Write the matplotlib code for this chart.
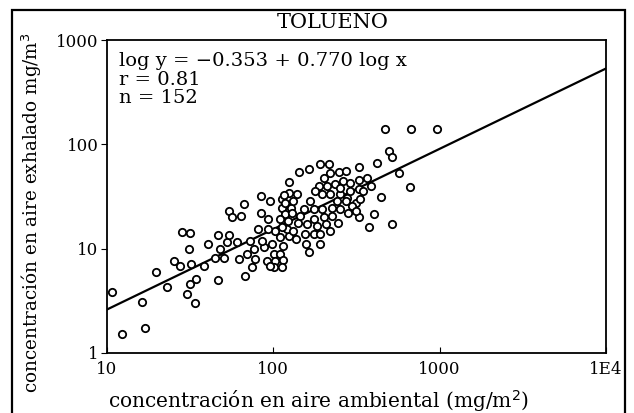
import numpy as np
import matplotlib
matplotlib.use('Agg')
import matplotlib.pyplot as plt
from matplotlib.patches import Rectangle

plt.rcParams['font.family'] = 'DejaVu Serif'

# concentración en aire ambiental (mg/m2)
x_amb = [10.7, 12.3, 16.9, 16.2, 19.7, 23.1, 28.2, 31.6, 31.2, 25.3,
         27.5, 31.9, 34.2, 31.6, 30.2, 33.9, 38.5, 40.2, 46.4, 46.4,
         47.9, 44.7, 50.2, 52.6, 53.8, 56.4, 61.8, 69.5, 76.1, 77.9,
         74.4, 67.8, 87.4, 91.6, 100.4, 102.8, 110, 115, 101, 112,
         114, 98.2, 142, 125, 66.2, 84.7, 95.9, 63.8, 84.7, 92.9,
         125, 113, 113, 118, 127, 110, 122, 53.8, 60.4, 85.5,
         110, 124, 121, 132, 192, 215, 163, 220, 247, 327,
         201, 211, 236, 197, 220, 253, 291, 327, 278, 312,
         116, 139, 118, 132, 152, 175, 197, 226, 253, 175,
         201, 226, 160, 183, 206, 156, 175, 192, 136, 192,
         163, 327, 468, 676, 959, 495, 519, 422, 327, 367,
         384, 569, 662, 441, 402, 375, 519, 264, 291, 272,
         299, 334, 283, 316, 344, 253, 240, 72.7, 95.9, 113,
         145, 167, 130, 187, 141, 220, 246, 158, 177, 272,
         103, 93.3, 81.3]

# concentración en aire exhalado (mg/m3)
y_exh = [3.84, 1.52, 1.74, 3.08, 6.04, 4.28, 14.5, 14.1, 9.9, 7.69,
         6.89, 7.15, 5.14, 4.54, 3.70, 3.01, 6.89, 11.1, 4.96, 13.5,
         9.9, 8.15, 8.15, 11.5, 23.0, 19.9, 7.98, 8.91, 9.94, 7.98,
         6.64, 5.53, 10.3, 7.69, 8.91, 7.69, 8.91, 7.80, 6.74, 6.74,
         10.7, 11.1, 54.5, 43.8, 27.0, 32.0, 28.7, 20.6, 21.9, 19.2,
         34.4, 29.7, 24.7, 21.7, 24.7, 19.2, 18.5, 13.6, 11.5, 11.9,
         12.8, 13.3, 15.4, 14.8, 64.9, 64.9, 57.4, 53.3, 54.5, 60.4,
         47.8, 39.8, 41.3, 33.2, 33.2, 33.2, 35.7, 37.0, 30.8, 27.6,
         32.7, 33.2, 27.6, 28.7, 23.9, 23.9, 23.9, 24.7, 23.9, 19.2,
         19.9, 20.6, 17.2, 16.6, 17.2, 13.8, 13.8, 13.8, 12.4, 11.1,
         9.22, 19.9, 141, 141, 141, 87.1, 75.2, 66.4, 45.1, 47.8,
         39.8, 53.3, 38.9, 31.3, 21.7, 16.0, 17.2, 44.4, 42.5, 28.7,
         25.7, 29.9, 22.0, 23.0, 35.7, 38.1, 28.7, 11.9, 6.89, 16.0,
         20.6, 28.7, 22.0, 39.8, 17.7, 14.8, 17.7, 11.2, 35.7, 55.3,
         14.8, 15.5, 15.5]

# regresión: log y = a + b log x
a_coef = -0.353
b_coef = 0.770

x_ticks = [10, 100, 1000, 10000]
x_labels = ['10', '100', '1000', '1E4']
y_ticks = [1, 10, 100, 1000]
y_labels = ['1', '10', '100', '1000']

fig = plt.figure(figsize=(6.34, 4.13), dpi=100)
ax = fig.add_axes([0.1688, 0.1453, 0.7870, 0.7578])

ax.scatter(x_amb, y_exh, s=28, facecolors='white', edgecolors='black',
           linewidths=1.3, zorder=3)

xl = np.array([10, 10000])
ax.plot(xl, 10 ** (a_coef + b_coef * np.log10(xl)), color='black', lw=1.6, zorder=2)

ax.set_xscale('log')
ax.set_yscale('log')
ax.set_xlim(10, 10000)
ax.set_ylim(1, 1000)
ax.set_xticks(x_ticks)
ax.set_xticklabels(x_labels)
ax.set_yticks(y_ticks)
ax.set_yticklabels(y_labels)
ax.minorticks_off()
ax.tick_params(axis='x', direction='in', length=4, labelsize=12, pad=6)
ax.tick_params(axis='y', direction='out', length=4, labelsize=12, pad=2)
for sp in ax.spines.values():
    sp.set_linewidth(1.3)

# ecuación de regresión
ax.text(0.025, 0.962, 'log y = \u22120.353 + 0.770 log x\nr = 0.81\nn = 152',
        transform=ax.transAxes, ha='left', va='top', fontsize=14,
        linespacing=1.05)

fig.text(318 / 634, 1 - 401 / 413, 'concentración en aire ambiental (mg/m$^2$)',
         ha='center', va='center', fontsize=14.5)
fig.text(32 / 634, 1 - 213 / 413, 'concentración en aire exhalado mg/m$^3$',
         ha='center', va='center', rotation=90, fontsize=13.2)

fig.text(333 / 634, 1 - 23 / 413, 'TOLUENO', ha='center', va='center', fontsize=15)

# marco exterior
fig.patches.append(Rectangle((12 / 634, -0.05), (625 - 12) / 634, 1.05 - 10 / 413,
                             transform=fig.transFigure, fill=False,
                             edgecolor='black', linewidth=1.6))

fig.savefig('out.png', dpi=100)
